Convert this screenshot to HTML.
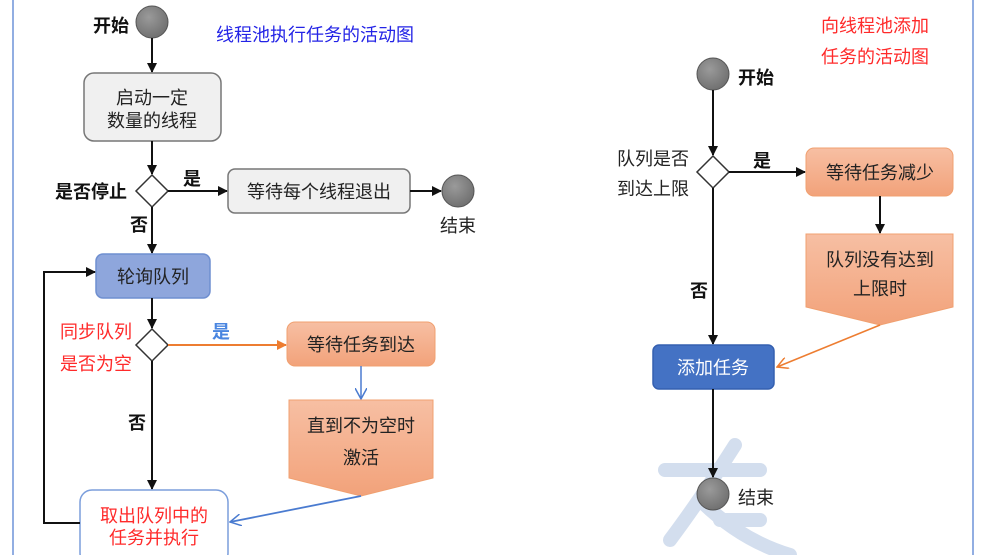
<!DOCTYPE html>
<html><head><meta charset="utf-8"><style>
html,body{margin:0;padding:0;background:#fff;}
svg{display:block;font-family:"Liberation Sans","Noto Sans CJK SC",sans-serif;}
</style></head><body>
<svg width="985" height="555" viewBox="0 0 985 555" xmlns="http://www.w3.org/2000/svg">
<defs>
<linearGradient id="or" x1="0" y1="0" x2="0" y2="1"><stop offset="0" stop-color="#f7bfa3"/><stop offset="1" stop-color="#f2a27a"/></linearGradient>
<radialGradient id="gc" cx="0.4" cy="0.35" r="0.7"><stop offset="0" stop-color="#9a9a9a"/><stop offset="1" stop-color="#6e6e6e"/></radialGradient>
<marker id="ab" markerWidth="10" markerHeight="10" refX="9" refY="5" orient="auto" markerUnits="userSpaceOnUse"><path d="M0,0 L10,5 L0,10 z" fill="#111"/></marker>
<marker id="ao" markerWidth="10" markerHeight="10" refX="9" refY="5" orient="auto" markerUnits="userSpaceOnUse"><path d="M0,0 L10,5 L0,10 z" fill="#ed7d31"/></marker>
<marker id="av" markerWidth="12" markerHeight="12" refX="11" refY="6" orient="auto" markerUnits="userSpaceOnUse"><path d="M0,0 L11,6 L0,12" fill="none" stroke="#4a7bd0" stroke-width="1.5"/></marker>
<marker id="ao2" markerWidth="12" markerHeight="12" refX="11" refY="6" orient="auto" markerUnits="userSpaceOnUse"><path d="M0,0 L11,6 L0,12" fill="none" stroke="#ed7d31" stroke-width="1.5"/></marker>
</defs>
<line x1="13" y1="0" x2="13" y2="555" stroke="#6f93d8" stroke-width="1.5"/>
<line x1="973" y1="0" x2="973" y2="555" stroke="#6f93d8" stroke-width="1.5"/>
<g stroke="#d3deee" stroke-width="14" fill="none" stroke-linecap="round">
<path d="M735,445 Q700,500 670,540"/><path d="M665,470 L760,470"/><path d="M700,500 Q740,540 790,555"/><path d="M720,520 L760,520"/>
</g>

<text x="216" y="41" font-size="18" fill="#2323e6">线程池执行任务的活动图</text>
<text x="93" y="32" font-size="18" font-weight="bold" fill="#111">开始</text>
<circle cx="152" cy="22" r="16" fill="url(#gc)" stroke="#555" stroke-width="1"/>
<line x1="152" y1="38" x2="152" y2="72" stroke="#111" stroke-width="2" marker-end="url(#ab)"/>
<rect x="84" y="73" width="137" height="68" rx="10" fill="#f0f0f0" stroke="#777" stroke-width="1.5"/>
<text x="152" y="104" font-size="18" text-anchor="middle" fill="#222">启动一定</text>
<text x="152" y="127" font-size="18" text-anchor="middle" fill="#222">数量的线程</text>
<line x1="152" y1="141" x2="152" y2="174" stroke="#111" stroke-width="2" marker-end="url(#ab)"/>
<path d="M152,175 L168,191 L152,207 L136,191 z" fill="#fff" stroke="#333" stroke-width="1.5"/>
<text x="55" y="198" font-size="18" font-weight="bold" fill="#111">是否停止</text>
<text x="183" y="185" font-size="18" font-weight="bold" fill="#111">是</text>
<line x1="168" y1="191" x2="227" y2="191" stroke="#111" stroke-width="2" marker-end="url(#ab)"/>
<rect x="228" y="169" width="182" height="44" rx="7" fill="#f0f0f0" stroke="#777" stroke-width="1.5"/>
<text x="319" y="198" font-size="18" text-anchor="middle" fill="#222">等待每个线程退出</text>
<line x1="410" y1="191" x2="441" y2="191" stroke="#111" stroke-width="2" marker-end="url(#ab)"/>
<circle cx="458" cy="191" r="16" fill="url(#gc)" stroke="#555"/>
<text x="458" y="232" font-size="18" text-anchor="middle" fill="#222">结束</text>
<text x="130" y="231" font-size="18" font-weight="bold" fill="#111">否</text>
<line x1="152" y1="207" x2="152" y2="253" stroke="#111" stroke-width="2" marker-end="url(#ab)"/>
<rect x="96" y="254" width="114" height="44" rx="7" fill="#8ea6dc" stroke="#6f8fd0" stroke-width="1.5"/>
<text x="153" y="283" font-size="18" text-anchor="middle" fill="#222">轮询队列</text>
<line x1="152" y1="298" x2="152" y2="328" stroke="#111" stroke-width="2" marker-end="url(#ab)"/>
<path d="M152,329 L168,345 L152,361 L136,345 z" fill="#fff" stroke="#333" stroke-width="1.5"/>
<text x="60" y="338" font-size="18" fill="#ff2a2a">同步队列</text>
<text x="60" y="370" font-size="18" fill="#ff2a2a">是否为空</text>
<text x="212" y="338" font-size="18" font-weight="bold" fill="#4a86e0">是</text>
<line x1="168" y1="345" x2="286" y2="345" stroke="#ed7d31" stroke-width="2" marker-end="url(#ao)"/>
<rect x="287" y="322" width="148" height="44" rx="8" fill="url(#or)" stroke="#f0a070" stroke-width="1"/>
<text x="361" y="351" font-size="18" text-anchor="middle" fill="#222">等待任务到达</text>
<line x1="361" y1="366" x2="361" y2="399" stroke="#4a7bd0" stroke-width="1.5" marker-end="url(#av)"/>
<path d="M289,400 L433,400 L433,478 L361,496 L289,478 z" fill="url(#or)" stroke="#f0a070" stroke-width="1"/>
<text x="361" y="432" font-size="18" text-anchor="middle" fill="#222">直到不为空时</text>
<text x="361" y="464" font-size="18" text-anchor="middle" fill="#222">激活</text>
<text x="128" y="429" font-size="18" font-weight="bold" fill="#111">否</text>
<line x1="152" y1="361" x2="152" y2="489" stroke="#111" stroke-width="2" marker-end="url(#ab)"/>
<rect x="80" y="490" width="148" height="75" rx="12" fill="#fff" stroke="#7b9edc" stroke-width="1.5"/>
<text x="154" y="522" font-size="18" text-anchor="middle" fill="#ff2a2a">取出队列中的</text>
<text x="154" y="544" font-size="18" text-anchor="middle" fill="#ff2a2a">任务并执行</text>
<polyline points="80,523 44,523 44,272 95,272" fill="none" stroke="#111" stroke-width="2" marker-end="url(#ab)"/>
<line x1="361" y1="496" x2="230" y2="522" stroke="#4a7bd0" stroke-width="1.8" marker-end="url(#av)"/>

<text x="821" y="32" font-size="18" fill="#ff2a2a">向线程池添加</text>
<text x="821" y="63" font-size="18" fill="#ff2a2a">任务的活动图</text>
<circle cx="713" cy="74" r="16" fill="url(#gc)" stroke="#555"/>
<text x="738" y="84" font-size="18" font-weight="bold" fill="#111">开始</text>
<line x1="713" y1="90" x2="713" y2="155" stroke="#111" stroke-width="2" marker-end="url(#ab)"/>
<path d="M713,156 L729,172 L713,188 L697,172 z" fill="#fff" stroke="#333" stroke-width="1.5"/>
<text x="617" y="165" font-size="18" fill="#222">队列是否</text>
<text x="617" y="195" font-size="18" fill="#222">到达上限</text>
<text x="753" y="167" font-size="18" font-weight="bold" fill="#111">是</text>
<line x1="729" y1="172" x2="805" y2="172" stroke="#111" stroke-width="2" marker-end="url(#ab)"/>
<rect x="806" y="148" width="147" height="48" rx="8" fill="url(#or)" stroke="#f0a070" stroke-width="1"/>
<text x="880" y="179" font-size="18" text-anchor="middle" fill="#222">等待任务减少</text>
<line x1="880" y1="196" x2="880" y2="233" stroke="#111" stroke-width="2" marker-end="url(#ab)"/>
<path d="M806,234 L953,234 L953,307 L880,325 L806,307 z" fill="url(#or)" stroke="#f0a070" stroke-width="1"/>
<text x="880" y="266" font-size="18" text-anchor="middle" fill="#222">队列没有达到</text>
<text x="880" y="295" font-size="18" text-anchor="middle" fill="#222">上限时</text>
<text x="690" y="297" font-size="18" font-weight="bold" fill="#111">否</text>
<line x1="713" y1="188" x2="713" y2="344" stroke="#111" stroke-width="2" marker-end="url(#ab)"/>
<rect x="653" y="345" width="121" height="44" rx="6" fill="#4472c4" stroke="#3560b0" stroke-width="1.5"/>
<text x="713" y="374" font-size="18" text-anchor="middle" fill="#fff">添加任务</text>
<line x1="880" y1="325" x2="777" y2="367" stroke="#ed7d31" stroke-width="1.5" marker-end="url(#ao2)"/>
<line x1="713" y1="389" x2="713" y2="477" stroke="#111" stroke-width="2" marker-end="url(#ab)"/>
<circle cx="713" cy="494" r="16" fill="url(#gc)" stroke="#555"/>
<text x="738" y="504" font-size="18" fill="#222">结束</text>
</svg>
</body></html>
